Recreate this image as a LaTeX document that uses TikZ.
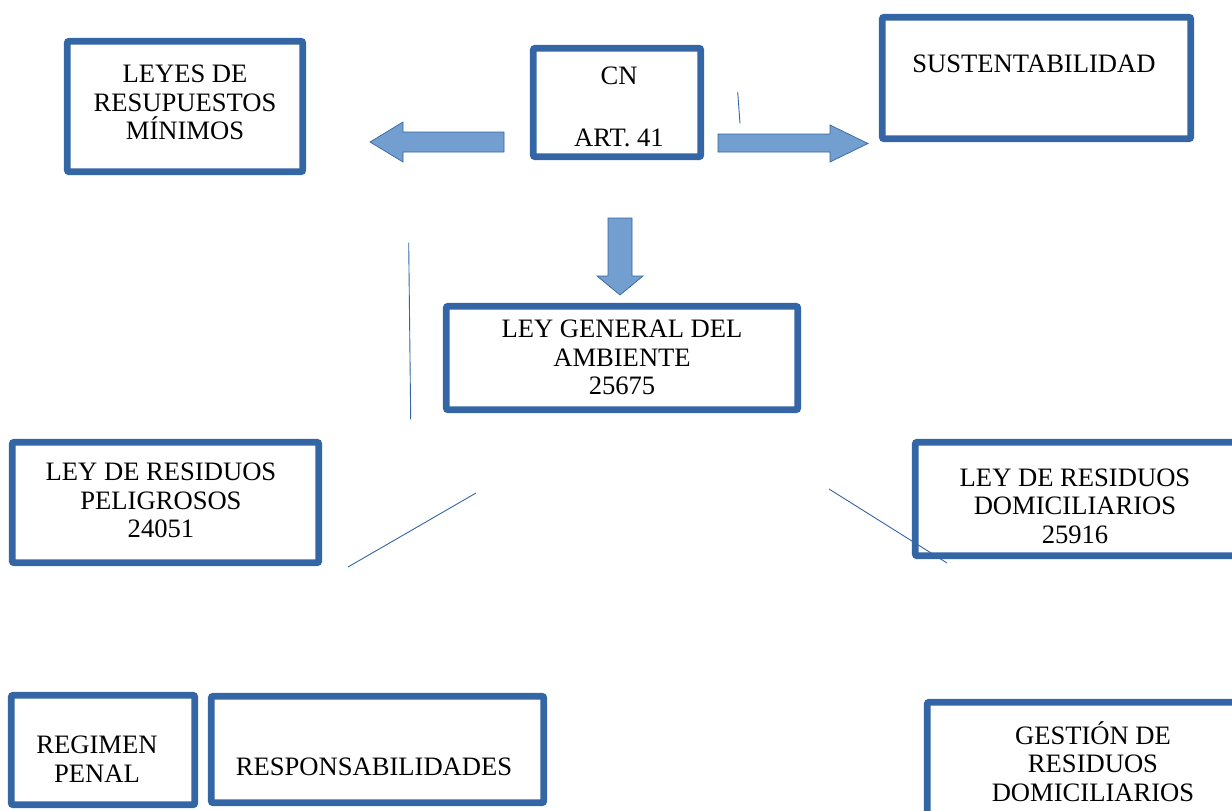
\documentclass[tikz,border=0pt]{standalone}
\usepackage{fontspec}
\setmainfont{Liberation Serif}
\definecolor{bord}{HTML}{3465A4}
\definecolor{afill}{HTML}{729FCF}
\begin{document}
\begin{tikzpicture}[x=1pt,y=-1pt,
  box/.style={draw=bord,line width=6.8pt,rounded corners=2pt,inner sep=0pt},
  txt/.style={align=center,inner sep=0pt,font=\fontsize{26.6}{28.4}\selectfont},
  blockarrow/.style={fill=afill,draw=bord,line width=0.7pt,line join=miter},
  thin/.style={draw=bord,line width=0.9pt}]
\useasboundingbox (0,0) rectangle (1232,811);
% boxes
\node[box,minimum width=235.5pt,minimum height=130.5pt] (leyes) at (185,106.5) {};
\node[box,minimum width=167.5pt,minimum height=108.5pt] (cn) at (617,102.5) {};
\node[box,minimum width=308.5pt,minimum height=121.5pt] (sust) at (1036.5,78) {};
\node[box,minimum width=351.5pt,minimum height=103.5pt] (lga) at (622,358) {};
\node[box,minimum width=306.5pt,minimum height=120.5pt] (peli) at (165.5,502.5) {};
\node[box,minimum width=326.5pt,minimum height=113.5pt] (domi) at (1078.5,499) {};
\node[box,minimum width=183.5pt,minimum height=109.5pt] (reg) at (103,750) {};
\node[box,minimum width=332.5pt,minimum height=106.5pt] (resp) at (377.5,749.5) {};
\node[box,minimum width=314.5pt,minimum height=124.5pt] (gest) at (1084.5,764.5) {};
% texts
\node[txt] (tleyes) at (185,102.5) {LEYES DE\\RESUPUESTOS\\MÍNIMOS};
\node[txt] (tcn) at (619,107) {CN\\[33.6pt]ART. 41};
\node[txt] (tsust) at (1034,63.5) {SUSTENTABILIDAD};
\node[txt] (tlga) at (622,357.5) {LEY GENERAL DEL\\AMBIENTE\\25675};
\node[txt] (tpeli) at (161,500.5) {LEY DE RESIDUOS\\PELIGROSOS\\24051};
\node[txt] (tdomi) at (1075,506) {LEY DE RESIDUOS\\DOMICILIARIOS\\25916};
\node[txt] (treg) at (97,759) {REGIMEN\\PENAL};
\node[txt] (tresp) at (374,767) {RESPONSABILIDADES};
\node[txt] (tgest) at (1093,761.5) {GESTIÓN DE\\RESIDUOS\\DOMICILIARIOS};
% block arrows
\draw[blockarrow] (504,132) -- (403,132) -- (403,122) -- (370,142) -- (403,162) -- (403,152) -- (504,152) -- cycle;
\draw[blockarrow] (718,134) -- (830,134) -- (830,125) -- (868,143.5) -- (830,162) -- (830,152) -- (718,152) -- cycle;
\draw[blockarrow] (608,218) -- (632,218) -- (632,276) -- (643,276) -- (620,295) -- (597,276) -- (608,276) -- cycle;
% thin lines
\coordinate (a1) at (737.7,92); \coordinate (a2) at (740,123.5);
\coordinate (b1) at (408.7,242.7); \coordinate (b2) at (410.7,419.3);
\coordinate (c1) at (476,493); \coordinate (c2) at (348,567);
\coordinate (d1) at (829,489); \coordinate (d2) at (947,563);
\draw[thin] (a1) -- (a2);
\draw[thin] (b1) -- (b2);
\draw[thin] (c1) -- (c2);
\draw[thin] (d1) -- (d2);
\end{tikzpicture}
\end{document}
